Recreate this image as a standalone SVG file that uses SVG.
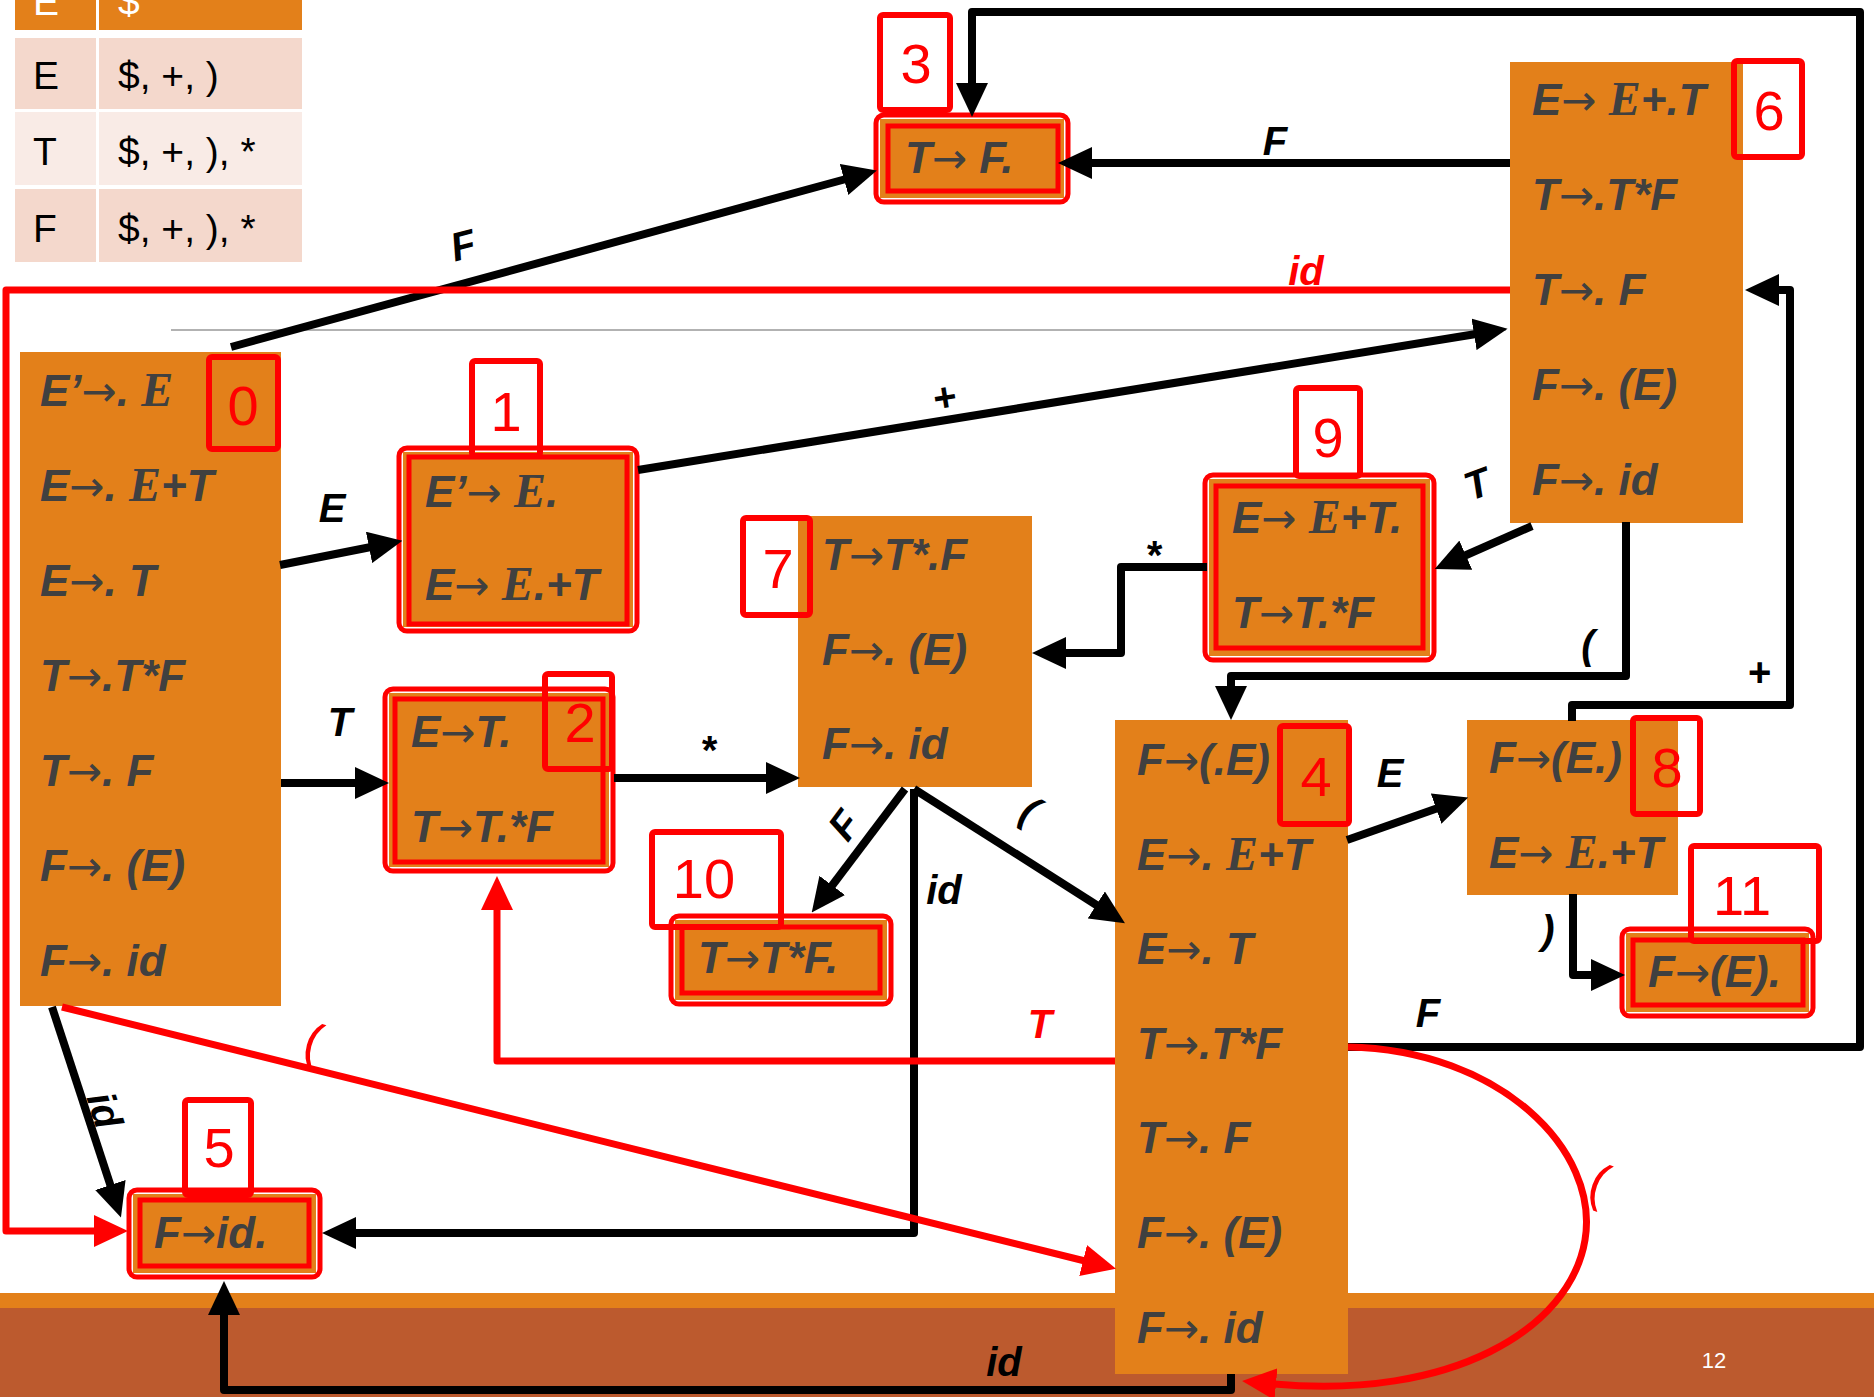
<svg xmlns="http://www.w3.org/2000/svg" width="1874" height="1397" viewBox="0 0 1874 1397">
<style>
.n{fill:#E3801A}
.t{font-family:"Liberation Sans",Arial,sans-serif;font-weight:700;font-style:italic;font-size:44px;fill:#404040}
.a{font-family:"DejaVu Sans",sans-serif;font-weight:400;font-style:normal;font-size:42px}
.s{font-family:"Liberation Serif","Times New Roman",serif;font-size:48px;font-weight:700}
.fo{fill:#fff;stroke:#f00;stroke-width:5}
.fi{fill:none;stroke:#f00;stroke-width:5}
.lb{fill:none;stroke:#f00;stroke-width:6}
.ln{font-family:"Liberation Sans",Arial,sans-serif;font-size:56px;fill:#f00;text-anchor:middle}
.c{fill:none;stroke:#000;stroke-width:8}
.r{fill:none;stroke:#f00;stroke-width:7}
.cl{font-family:"Liberation Sans",Arial,sans-serif;font-weight:700;font-style:italic;font-size:40px;fill:#000;text-anchor:middle}
.rl{font-family:"Liberation Sans",Arial,sans-serif;font-weight:700;font-style:italic;font-size:40px;fill:#f00;text-anchor:middle}
.rp{font-family:"Liberation Sans",Arial,sans-serif;font-size:52px;fill:#f00;text-anchor:middle}
.tb{font-family:"Liberation Sans",Arial,sans-serif;font-size:39px;fill:#000}
</style>
<defs>
<marker id="ab" markerUnits="userSpaceOnUse" markerWidth="34" markerHeight="32" viewBox="0 0 34 32" refX="2" refY="16" orient="auto"><path d="M0,0 L34,16 L0,32 z" fill="#000"/></marker>
<marker id="ar" markerUnits="userSpaceOnUse" markerWidth="34" markerHeight="32" viewBox="0 0 34 32" refX="2" refY="16" orient="auto"><path d="M0,0 L34,16 L0,32 z" fill="#f00"/></marker>
</defs>
<rect x="0" y="0" width="1874" height="1397" fill="#fff"/>
<!-- bottom band -->
<rect x="0" y="1293" width="1874" height="16" fill="#E3801A"/>
<rect x="0" y="1308" width="1874" height="89" fill="#BC5A2E"/>
<text x="1714" y="1368" font-family="Liberation Sans,Arial,sans-serif" font-size="22" fill="#fff" text-anchor="middle">12</text>
<!-- table -->
<g id="table">
<rect x="15" y="0" width="287" height="30" fill="#E3801A"/>
<rect x="15" y="38" width="287" height="71" fill="#F4D8CC"/>
<rect x="15" y="112" width="287" height="73" fill="#F9EBE6"/>
<rect x="15" y="189" width="287" height="73" fill="#F4D8CC"/>
<line x1="97.5" y1="0" x2="97.5" y2="262" stroke="#fff" stroke-width="3"/>
<text class="tb" x="33" y="15" style="fill:#fff">E’</text>
<text class="tb" x="118" y="15" style="fill:#fff">$</text>
<text class="tb" x="33" y="89">E</text>
<text class="tb" x="118" y="89">$, +, )</text>
<text class="tb" x="33" y="165">T</text>
<text class="tb" x="118" y="165">$, +, ), *</text>
<text class="tb" x="33" y="242">F</text>
<text class="tb" x="118" y="242">$, +, ), *</text>
</g>
<line x1="171" y1="330" x2="1506" y2="330" stroke="#999" stroke-width="1.5"/>

<!-- nodes -->
<g id="node0">
<rect class="n" x="20" y="352" width="261" height="654"/>
<text class="t" x="40" y="406">E’<tspan class="a">→</tspan>. <tspan class="s">E</tspan></text>
<text class="t" x="40" y="501">E<tspan class="a">→</tspan>. <tspan class="s">E</tspan>+T</text>
<text class="t" x="40" y="596">E<tspan class="a">→</tspan>. T</text>
<text class="t" x="40" y="691">T<tspan class="a">→</tspan>.T*F</text>
<text class="t" x="40" y="786">T<tspan class="a">→</tspan>. F</text>
<text class="t" x="40" y="881">F<tspan class="a">→</tspan>. (E)</text>
<text class="t" x="40" y="976">F<tspan class="a">→</tspan>. id</text>
<rect class="lb" x="209" y="357" width="69" height="92" rx="3"/>
<text class="ln" x="243" y="425">0</text>
</g>
<g id="node1">
<rect class="fo" x="399" y="448" width="238" height="183" rx="8"/>
<rect class="n" x="403" y="452" width="230" height="175"/>
<rect class="fi" x="409" y="457" width="218" height="167"/>
<text class="t" x="425" y="507">E’<tspan class="a">→</tspan> <tspan class="s">E</tspan>.</text>
<text class="t" x="425" y="600">E<tspan class="a">→</tspan> <tspan class="s">E</tspan>.+T</text>
<rect class="lb" x="472" y="361" width="68" height="95" rx="3"/>
<text class="ln" x="506" y="431">1</text>
</g>
<g id="node2">
<rect class="fo" x="385" y="689" width="228" height="182" rx="8"/>
<rect class="n" x="389" y="693" width="220" height="174"/>
<rect class="fi" x="395" y="699" width="208" height="163"/>
<text class="t" x="411" y="747">E<tspan class="a">→</tspan>T.</text>
<text class="t" x="411" y="842">T<tspan class="a">→</tspan>T.*F</text>
<rect class="lb" x="545" y="674" width="67" height="95" rx="3"/>
<text class="ln" x="580" y="742">2</text>
</g>
<g id="node3">
<rect class="fo" x="876" y="115" width="192" height="87" rx="8"/>
<rect class="n" x="880" y="119" width="184" height="79"/>
<rect class="fi" x="888" y="126" width="170" height="65"/>
<text class="t" x="905" y="173">T<tspan class="a">→</tspan> F.</text>
<rect class="lb" x="880" y="15" width="70" height="95" rx="3"/>
<text class="ln" x="916" y="83">3</text>
</g>
<g id="node4">
<rect class="n" x="1115" y="720" width="233" height="654"/>
<text class="t" x="1137" y="775">F<tspan class="a">→</tspan>(.E)</text>
<text class="t" x="1137" y="870">E<tspan class="a">→</tspan>. <tspan class="s">E</tspan>+T</text>
<text class="t" x="1137" y="964">E<tspan class="a">→</tspan>. T</text>
<text class="t" x="1137" y="1059">T<tspan class="a">→</tspan>.T*F</text>
<text class="t" x="1137" y="1153">T<tspan class="a">→</tspan>. F</text>
<text class="t" x="1137" y="1248">F<tspan class="a">→</tspan>. (E)</text>
<text class="t" x="1137" y="1343">F<tspan class="a">→</tspan>. id</text>
<rect class="lb" x="1280" y="726" width="69" height="98" rx="3"/>
<text class="ln" x="1316" y="796">4</text>
</g>
<g id="node5">
<rect class="fo" x="129" y="1190" width="191" height="87" rx="8"/>
<rect class="n" x="133" y="1194" width="183" height="79"/>
<rect class="fi" x="140" y="1200" width="169" height="66"/>
<text class="t" x="154" y="1248">F<tspan class="a">→</tspan>id.</text>
<rect class="lb" x="185" y="1100" width="66" height="95" rx="3"/>
<text class="ln" x="219" y="1167">5</text>
</g>
<g id="node6">
<rect class="n" x="1510" y="62" width="233" height="461"/>
<text class="t" x="1532" y="115">E<tspan class="a">→</tspan> <tspan class="s">E</tspan>+.T</text>
<text class="t" x="1532" y="210">T<tspan class="a">→</tspan>.T*F</text>
<text class="t" x="1532" y="305">T<tspan class="a">→</tspan>. F</text>
<text class="t" x="1532" y="400">F<tspan class="a">→</tspan>. (E)</text>
<text class="t" x="1532" y="495">F<tspan class="a">→</tspan>. id</text>
<rect class="lb" x="1734" y="61" width="68" height="96" rx="3"/>
<text class="ln" x="1769" y="130">6</text>
</g>
<g id="node7">
<rect class="n" x="798" y="516" width="234" height="271"/>
<text class="t" x="822" y="570">T<tspan class="a">→</tspan>T*.F</text>
<text class="t" x="822" y="665">F<tspan class="a">→</tspan>. (E)</text>
<text class="t" x="822" y="759">F<tspan class="a">→</tspan>. id</text>
<rect class="lb" x="743" y="518" width="67" height="97" rx="3"/>
<text class="ln" x="778" y="588">7</text>
</g>
<g id="node8">
<rect class="n" x="1467" y="720" width="211" height="175"/>
<text class="t" x="1489" y="773">F<tspan class="a">→</tspan>(E.)</text>
<text class="t" x="1489" y="868">E<tspan class="a">→</tspan> <tspan class="s">E</tspan>.+T</text>
<rect class="lb" x="1633" y="718" width="67" height="96" rx="3"/>
<text class="ln" x="1667" y="787">8</text>
</g>
<g id="node9">
<rect class="fo" x="1205" y="475" width="229" height="185" rx="8"/>
<rect class="n" x="1209" y="479" width="221" height="177"/>
<rect class="fi" x="1216" y="486" width="207" height="162"/>
<text class="t" x="1232" y="533">E<tspan class="a">→</tspan> <tspan class="s">E</tspan>+T.</text>
<text class="t" x="1232" y="628">T<tspan class="a">→</tspan>T.*F</text>
<rect class="lb" x="1296" y="388" width="64" height="88" rx="3"/>
<text class="ln" x="1328" y="457">9</text>
</g>
<g id="node10">
<rect class="fo" x="671" y="916" width="220" height="88" rx="8"/>
<rect class="n" x="675" y="920" width="212" height="80"/>
<rect class="fi" x="682" y="927" width="198" height="66"/>
<text class="t" x="698" y="973">T<tspan class="a">→</tspan>T*F.</text>
<rect class="lb" x="652" y="832" width="129" height="95" rx="3"/>
<text class="ln" x="704" y="898">10</text>
</g>
<g id="node11">
<rect class="fo" x="1622" y="929" width="191" height="87" rx="8"/>
<rect class="n" x="1626" y="933" width="183" height="79"/>
<rect class="fi" x="1633" y="940" width="170" height="65"/>
<text class="t" x="1648" y="987">F<tspan class="a">→</tspan>(E).</text>
<rect class="lb" x="1691" y="846" width="128" height="95" rx="3"/>
<text class="ln" x="1742" y="915">11</text>
</g>

<!-- connectors -->
<g id="connectors">
<path class="c" d="M231,347 L846,179" marker-end="url(#ab)"/>
<text class="cl" x="463" y="259" transform="rotate(-15 463 245)">F</text>
<path class="c" d="M280,565 L371,547" marker-end="url(#ab)"/>
<text class="cl" x="332" y="522">E</text>
<path class="c" d="M281,783 L357,783" marker-end="url(#ab)"/>
<text class="cl" x="340" y="736">T</text>
<path class="c" d="M638,470 L1476,334" marker-end="url(#ab)"/>
<text class="cl" x="944" y="411" transform="rotate(-9 944 397)">+</text>
<path class="c" d="M614,778 L768,778" marker-end="url(#ab)"/>
<text class="cl" x="708" y="764">*</text>
<path class="c" d="M1510,163 L1090,163" marker-end="url(#ab)"/>
<text class="cl" x="1275" y="155">F</text>
<path class="c" d="M1348,1047 H1860 V12 H972 V85" stroke-linejoin="round" marker-end="url(#ab)"/>
<text class="cl" x="1428" y="1027">F</text>
<path class="c" d="M1532,526 L1464,556" marker-end="url(#ab)"/>
<text class="cl" x="1477" y="498" transform="rotate(-20 1477 484)">T</text>
<path class="c" d="M1207,567 H1121 V653 H1064" stroke-linejoin="round" marker-end="url(#ab)"/>
<text class="cl" x="1153" y="569">*</text>
<path class="c" d="M1626,522 V676 H1231 V688" stroke-linejoin="round" marker-end="url(#ab)"/>
<text class="cl" x="1588" y="659">(</text>
<path class="c" d="M1572,721 V705 H1790 V290 H1777" stroke-linejoin="round" marker-end="url(#ab)"/>
<text class="cl" x="1759" y="686">+</text>
<path class="c" d="M1573,894 V975 H1593" stroke-linejoin="round" marker-end="url(#ab)"/>
<text class="cl" x="1548" y="944">)</text>
<path class="c" d="M1347,840 L1438,808" marker-end="url(#ab)"/>
<text class="cl" x="1390" y="787">E</text>
<path class="c" d="M905,789 L831,887" marker-end="url(#ab)"/>
<text class="cl" x="844" y="839" transform="rotate(-53 844 825)">F</text>
<path class="c" d="M914,789 L1098,906" marker-end="url(#ab)"/>
<text class="cl" x="1030" y="824" transform="rotate(30 1030 810)">(</text>
<path class="c" d="M914,789 V1233 H354" stroke-linejoin="round" marker-end="url(#ab)"/>
<text class="cl" x="944" y="904">id</text>
<path class="c" d="M52,1007 L111,1187" marker-end="url(#ab)"/>
<text class="cl" x="105" y="1124" transform="rotate(72 105 1110)">id</text>
<path class="c" d="M1231,1374 V1390 H224 V1313" stroke-linejoin="round" marker-end="url(#ab)"/>
<text class="cl" x="1004" y="1376">id</text>
<path class="r" d="M1510,290 H6 V1231 H96" stroke-linejoin="round" marker-end="url(#ar)"/>
<text class="rl" x="1306" y="285">id</text>
<path class="r" d="M62,1007 L1085,1261" marker-end="url(#ar)"/>
<text class="rp" x="313" y="1060" transform="rotate(15 313 1043)">(</text>
<path class="r" d="M1115,1061 H497 V908" stroke-linejoin="round" marker-end="url(#ar)"/>
<text class="rl" x="1040" y="1038">T</text>
<path class="r" d="M1348,1047 C1500,1050 1600,1150 1585,1240 C1570,1330 1450,1400 1274,1384" marker-end="url(#ar)"/>
<text class="rp" x="1599" y="1200" transform="rotate(20 1599 1183)">(</text>
</g>
</svg>
